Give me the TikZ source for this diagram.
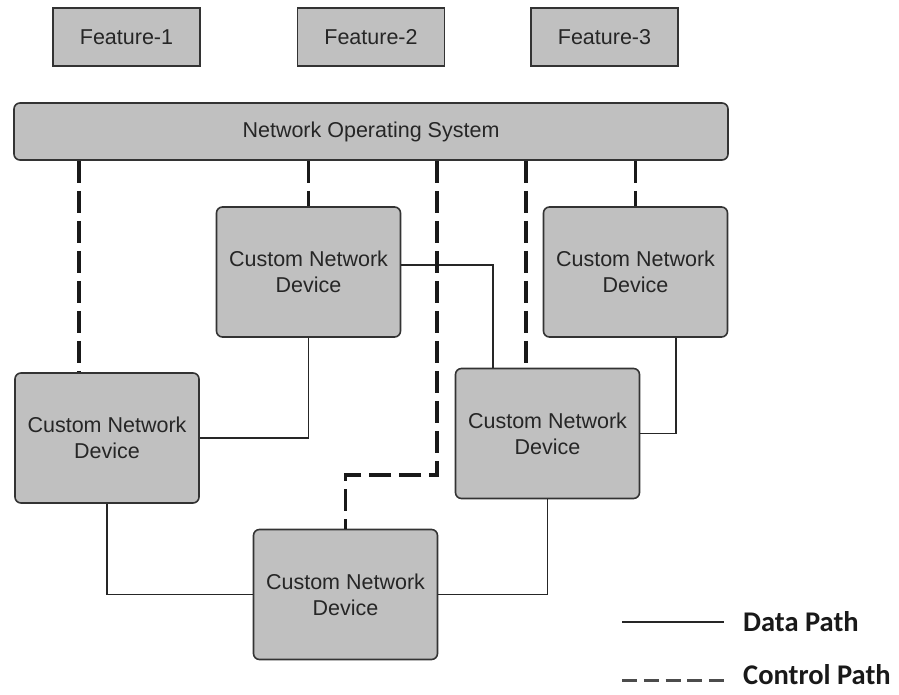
\documentclass[tikz,border=0pt]{standalone}
\usepackage{fontspec}
\setmainfont{Liberation Sans}
\newfontfamily\legendfont{Carlito}
\usetikzlibrary{calc}

\definecolor{boxfill}{HTML}{C0C0C0}
\definecolor{boxline}{HTML}{333333}
\definecolor{textgray}{HTML}{262626}

\begin{document}
\begin{tikzpicture}[x=1pt,y=-1pt,
  box/.style={draw=boxline, fill=boxfill, line width=1.6pt, text=textgray,
    font=\fontsize{21.5}{26}\selectfont, align=center, inner sep=0pt},
  featurebox/.style={box, minimum width=147pt, minimum height=58pt},
  devicebox/.style={box, rounded corners=6pt, minimum width=184pt, minimum height=130pt},
  datapath/.style={draw=black!85, line width=1.5pt},
  ctrlpath/.style={draw=black!90, line width=3.2pt, dash pattern=on 22pt off 8pt},
  legendtext/.style={anchor=west, inner sep=0pt, text=black!90,
    font=\legendfont\bfseries\fontsize{28.5}{32}\selectfont}
]
\useasboundingbox (0,0) rectangle (899,694);

% features
\node[featurebox] (f1) at (126.5,37) {Feature-1};
\node[featurebox] (f2) at (371,37) {Feature-2};
\node[featurebox] (f3) at (604.5,37) {Feature-3};

% network operating system
\node[box, rounded corners=6pt, minimum width=714pt, minimum height=57pt] (nos) at (371,131.5) {Network Operating System};

% devices
\node[devicebox] (a) at (308.5,272) {Custom Network\\Device};
\node[devicebox] (b) at (107,438) {Custom Network\\Device};
\node[devicebox] (c) at (635.5,272) {Custom Network\\Device};
\node[devicebox] (d) at (547.5,433.5) {Custom Network\\Device};
\node[devicebox] (e) at (345.5,594.5) {Custom Network\\Device};

% data paths
\draw[datapath] (a.south) |- (b.east);
\draw[datapath] ([yshift=7pt]a.east) -| ([xshift=-54.5pt]d.north);
\draw[datapath] ([xshift=40.5pt]c.south) |- (d.east);
\draw[datapath] (b.south) |- (e.west);
\draw[datapath] (d.south) |- (e.east);

% control paths
\draw[ctrlpath] ([xshift=-28pt]b.north |- nos.south) -- ([xshift=-28pt]b.north);
\draw[ctrlpath] (a.north |- nos.south) -- (a.north);
\draw[ctrlpath] (c.north |- nos.south) -- (c.north);
\draw[ctrlpath] ([xshift=-21.5pt]d.north |- nos.south) -- ([xshift=-21.5pt]d.north);
\coordinate (ebend) at (437,475);
\draw[ctrlpath] (ebend |- nos.south) -- (ebend) -| (e.north);

% legend
\coordinate (l1a) at (622,622);
\coordinate (l1b) at (724,622);
\coordinate (l2a) at (622,680);
\coordinate (l2b) at (724,680);
\draw[datapath] (l1a) -- (l1b);
\draw[draw=black!70, line width=3pt, dash pattern=on 15pt off 6.75pt] (l2a) -- (l2b);
\node[legendtext] (t1) at (743,622) {Data Path};
\node[legendtext] (t2) at (743,675) {Control Path};
\end{tikzpicture}
\end{document}
